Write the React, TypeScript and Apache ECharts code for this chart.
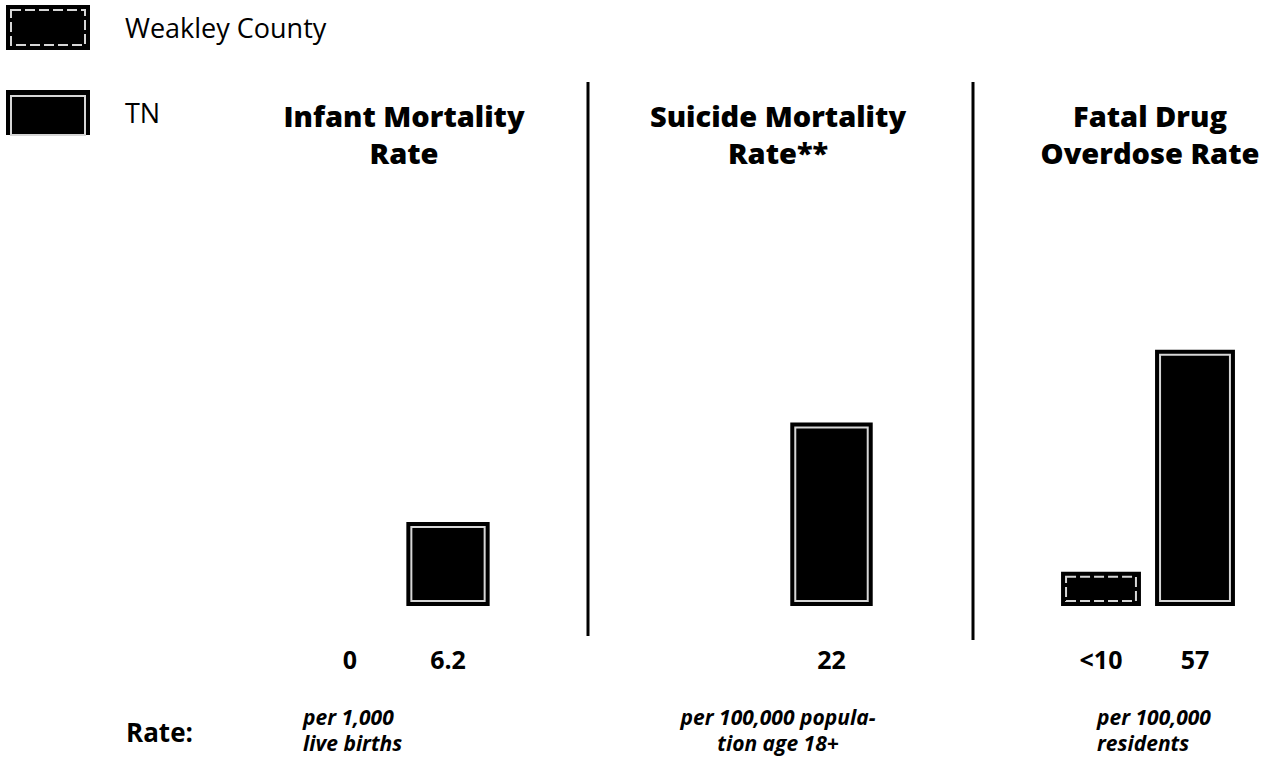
import React, { useEffect, useRef } from "react";
import * as echarts from "echarts";

const categories = ["Weakley County", "TN"];
const panelTitles = ["Infant Mortality\nRate", "Suicide Mortality\nRate**", "Fatal Drug\nOverdose Rate"];
const weakleyValues: (number | null)[] = [0, null, 7.6];
const tnValues: number[] = [6.2, 22, 57];
const valueLabels: string[][] = [["0", "6.2"], ["", "22"], ["<10", "57"]];
const rateUnits: string[][] = [
  ["per 1,000", "live births"],
  ["per 100,000 popula-", "tion age 18+"],
  ["per 100,000", "residents"],
];
const axisMax = [31.4, 51.1, 94.8];

const FONT = "'Open Sans', 'Noto Sans', sans-serif";

const grids = [
  { left: 301, width: 196 },
  { left: 686, width: 194 },
  { left: 1054, width: 188 },
];
const titleX = [404, 778, 1150];
const unitPos = [
  { x: 303, align: "left" },
  { x: 778, align: "center" },
  { x: 1097, align: "left" },
];
const unitLineY = [717, 743];

function makeRender(dashed: boolean) {
  return (params: any, api: any) => {
    const v = api.value(1);
    if (v === null || v === undefined || isNaN(v) || v <= 0) return null;
    const top = api.coord([api.value(0), v]);
    const base = api.coord([api.value(0), 0]);
    const bw = api.size([1, 0])[0] * 0.85;
    const x = top[0] - bw / 2;
    const h = base[1] - top[1];
    const inset = 5;
    return {
      type: "group",
      children: [
        { type: "rect", shape: { x, y: top[1], width: bw, height: h }, style: { fill: "#000" } },
        {
          type: "rect",
          shape: { x: x + inset, y: top[1] + inset, width: bw - inset * 2, height: Math.max(h - inset * 2, 1) },
          style: { fill: "none", stroke: "#d6d6d6", lineWidth: 2, lineDash: dashed ? [10, 4] : null },
        },
      ],
    };
  };
}

export default function App() {
  const ref = useRef<HTMLDivElement>(null);
  useEffect(() => {
    const chart = echarts.init(ref.current!, undefined, { renderer: "svg" });
    const series: any[] = [];
    const xAxis: any[] = [];
    const yAxis: any[] = [];
    const grid: any[] = [];
    grids.forEach((g, i) => {
      grid.push({ left: g.left, width: g.width, top: 180, bottom: 762 - 606 });
      xAxis.push({
        type: "category",
        gridIndex: i,
        data: categories,
        axisLine: { show: false },
        axisTick: { show: false },
        axisLabel: {
          margin: 40,
          fontSize: 25,
          fontWeight: "bold",
          fontFamily: FONT,
          color: "#000",
          formatter: (_: string, idx: number) => valueLabels[i][idx],
        },
      });
      yAxis.push({ type: "value", gridIndex: i, min: 0, max: axisMax[i], show: false, splitLine: { show: false } });
      series.push({
        type: "custom",
        name: categories[0],
        xAxisIndex: i,
        yAxisIndex: i,
        itemStyle: { color: "#000" },
        data: [[0, weakleyValues[i] === null ? "-" : weakleyValues[i]]],
        renderItem: makeRender(true),
      });
      series.push({
        type: "custom",
        name: categories[1],
        xAxisIndex: i,
        yAxisIndex: i,
        itemStyle: { color: "#000" },
        data: [[1, tnValues[i]]],
        renderItem: makeRender(false),
      });
    });

    const graphics: any[] = [];
    panelTitles.forEach((t, i) => {
      graphics.push({
        type: "text",
        x: titleX[i],
        y: 97,
        style: {
          text: t,
          textAlign: "center",
          fontSize: 29,
          fontWeight: 900,
          fontFamily: FONT,
          lineHeight: 37,
          fill: "#000",
        },
      });
      rateUnits[i].forEach((line, j) => {
        graphics.push({
          type: "text",
          x: unitPos[i].x,
          y: unitLineY[j],
          style: {
            text: line,
            textAlign: unitPos[i].align,
            textVerticalAlign: "middle",
            fontSize: 21,
            fontWeight: "bold",
            fontStyle: "italic",
            fontFamily: FONT,
            fill: "#000",
          },
        });
      });
    });
    graphics.push({
      type: "text",
      x: 126,
      y: 732,
      style: {
        text: "Rate:",
        fontSize: 26,
        fontWeight: "bold",
        fontFamily: FONT,
        fill: "#000",
        textVerticalAlign: "middle",
      },
    });
    graphics.push({ type: "line", shape: { x1: 588, y1: 82, x2: 588, y2: 636 }, style: { stroke: "#000", lineWidth: 3 } });
    graphics.push({ type: "line", shape: { x1: 973, y1: 82, x2: 973, y2: 640 }, style: { stroke: "#000", lineWidth: 3 } });
    // legend icon inner lines
    graphics.push({
      type: "rect",
      shape: { x: 11, y: 10, width: 74, height: 35 },
      style: { fill: "none", stroke: "#d6d6d6", lineWidth: 2, lineDash: [10, 4] },
      z: 100,
    });
    graphics.push({
      type: "rect",
      shape: { x: 11, y: 96, width: 74, height: 39 },
      style: { fill: "none", stroke: "#d6d6d6", lineWidth: 2 },
      z: 100,
    });

    chart.setOption({
      animation: false,
      backgroundColor: "#fff",
      legend: {
        orient: "vertical",
        left: 6,
        top: 5,
        itemWidth: 84,
        itemHeight: 45,
        itemGap: 40,
        padding: 0,
        icon: "rect",
        data: categories,
        textStyle: { fontSize: 27, fontFamily: FONT, color: "#000", padding: [0, 0, 0, 30] },
      },
      grid,
      xAxis,
      yAxis,
      series,
      graphic: graphics,
    });
    return () => chart.dispose();
  }, []);
  return <div ref={ref} style={{ position: "fixed", left: 0, top: 0, width: 1267, height: 762 }} />;
}
